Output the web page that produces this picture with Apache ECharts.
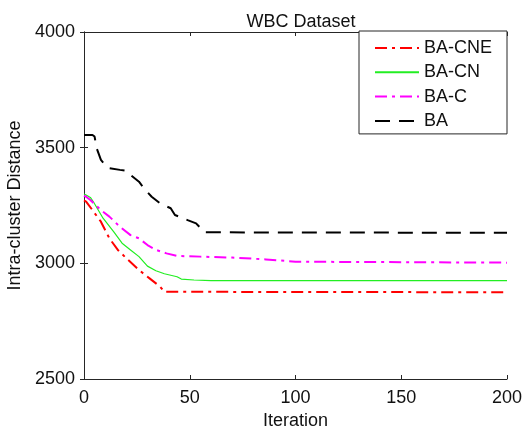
<!DOCTYPE html>
<html>
<head>
<meta charset="utf-8">
<script src="https://cdn.jsdelivr.net/npm/echarts@6/dist/echarts.min.js"></script>
<style>html,body{margin:0;padding:0;background:#fff;}#c{width:524px;height:432px;}</style>
</head>
<body>
<div id="c"></div>
<script>
const xTicks = [0, 50, 100, 150, 200];
const yTicks = [2500, 3000, 3500, 4000];
const seriesNames = ['BA-CNE', 'BA-CN', 'BA-C', 'BA'];

const itCNE = [0, 1, 4, 8, 12, 16, 20, 26, 31, 36, 38, 200];
const valCNE = [3272, 3267, 3230, 3180, 3108, 3058, 3022, 2971, 2935, 2899, 2877, 2875];

const itCN = [0, 1, 3, 4.5, 9, 14, 18, 22, 26, 30, 34, 38, 44, 46, 52, 60, 200];
const valCN = [3300, 3295, 3285, 3265, 3195, 3137, 3087, 3058, 3029, 2988, 2968, 2955, 2942, 2932, 2928, 2925, 2925];

const itC = [0, 1, 3, 8, 12, 17, 22, 26, 30, 34, 39, 44, 55, 70, 86, 100, 200];
const valC = [3292, 3288, 3274, 3230, 3202, 3158, 3122, 3108, 3079, 3058, 3043, 3032, 3029, 3025, 3017, 3007, 3003];

const itBA = [0, 4, 5, 6, 8, 11, 17, 20, 22, 26, 29, 32, 36, 41, 43, 49, 53, 57, 200];
const valBA = [3555, 3555, 3548, 3497, 3447, 3413, 3404, 3400, 3382, 3353, 3317, 3288, 3259, 3238, 3209, 3187, 3173, 3134, 3132];

function pairs(xs, ys) { return xs.map((x, i) => [x, ys[i]]); }

const axisColor = '#262626';
const font = 'Arial, "Liberation Sans", sans-serif';

const chart = echarts.init(document.getElementById('c'), null, {renderer: 'canvas'});
chart.setOption({
  animation: false,
  backgroundColor: '#fff',
  title: {
    text: 'WBC Dataset',
    left: 296,
    textAlign: 'center',
    top: 8,
    textStyle: {fontSize: 18, fontWeight: 'normal', color: '#111', fontFamily: font}
  },
  grid: {left: 84, right: 17, top: 32, bottom: 53, containLabel: false, outerBoundsMode: 'none'},
  legend: {
    data: seriesNames,
    orient: 'vertical',
    left: 359,
    top: 31,
    itemWidth: 44,
    itemHeight: 14,
    itemGap: 4.3,
    padding: [7, 15, 3, 15],
    borderColor: axisColor,
    borderWidth: 1,
    backgroundColor: '#fff',
    itemStyle: {opacity: 0},
    textStyle: {fontSize: 18, color: '#111', fontFamily: font, lineHeight: 20}
  },
  xAxis: [
    {
      type: 'value', position: 'bottom', min: xTicks[0], max: xTicks[xTicks.length - 1], interval: 50,
      name: 'Iteration', nameLocation: 'middle', nameGap: 33,
      nameTextStyle: {fontSize: 18, color: '#111', fontFamily: font},
      axisLine: {show: true, lineStyle: {color: axisColor, width: 1}},
      axisTick: {show: true, inside: true, length: 4, lineStyle: {color: axisColor}},
      axisLabel: {fontSize: 18, color: '#111', fontFamily: font, margin: 10, formatter: v => String(v)},
      splitLine: {show: false}
    },
    {
      type: 'value', position: 'top', min: xTicks[0], max: xTicks[xTicks.length - 1], interval: 50,
      axisLine: {show: true, lineStyle: {color: axisColor, width: 1}},
      axisTick: {show: true, inside: true, length: 4, lineStyle: {color: axisColor}},
      axisLabel: {show: false},
      splitLine: {show: false}
    }
  ],
  yAxis: [
    {
      type: 'value', position: 'left', min: yTicks[0], max: yTicks[yTicks.length - 1], interval: 500,
      name: 'Intra-cluster Distance', nameLocation: 'middle', nameGap: 59, nameRotate: 90,
      nameTextStyle: {fontSize: 18, color: '#111', fontFamily: font},
      axisLine: {show: true, lineStyle: {color: axisColor, width: 1}},
      axisTick: {show: true, inside: true, length: 4, lineStyle: {color: axisColor}},
      axisLabel: {fontSize: 18, color: '#111', fontFamily: font, margin: 9, formatter: v => String(v)},
      splitLine: {show: false}
    },
    {
      type: 'value', position: 'right', min: yTicks[0], max: yTicks[yTicks.length - 1], interval: 500,
      axisLine: {show: true, lineStyle: {color: axisColor, width: 1}},
      axisTick: {show: true, inside: true, length: 4, lineStyle: {color: axisColor}},
      axisLabel: {show: false},
      splitLine: {show: false}
    }
  ],
  series: [
    {name: seriesNames[0], type: 'line', symbol: 'none', data: pairs(itCNE, valCNE),
     color: '#ff0000', lineStyle: {color: '#ff0000', width: 2, type: [12, 5, 3, 5]}},
    {name: seriesNames[1], type: 'line', symbol: 'none', data: pairs(itCN, valCN),
     color: '#22ee22', lineStyle: {color: '#22ee22', width: 1.2, type: 'solid'}},
    {name: seriesNames[2], type: 'line', symbol: 'none', data: pairs(itC, valC),
     color: '#ff00ff', lineStyle: {color: '#ff00ff', width: 2, type: [12, 5, 3, 5]}},
    {name: seriesNames[3], type: 'line', symbol: 'none', data: pairs(itBA, valBA),
     color: '#000000', lineStyle: {color: '#000000', width: 2, type: [15, 9]}}
  ]
});
</script>
</body>
</html>
